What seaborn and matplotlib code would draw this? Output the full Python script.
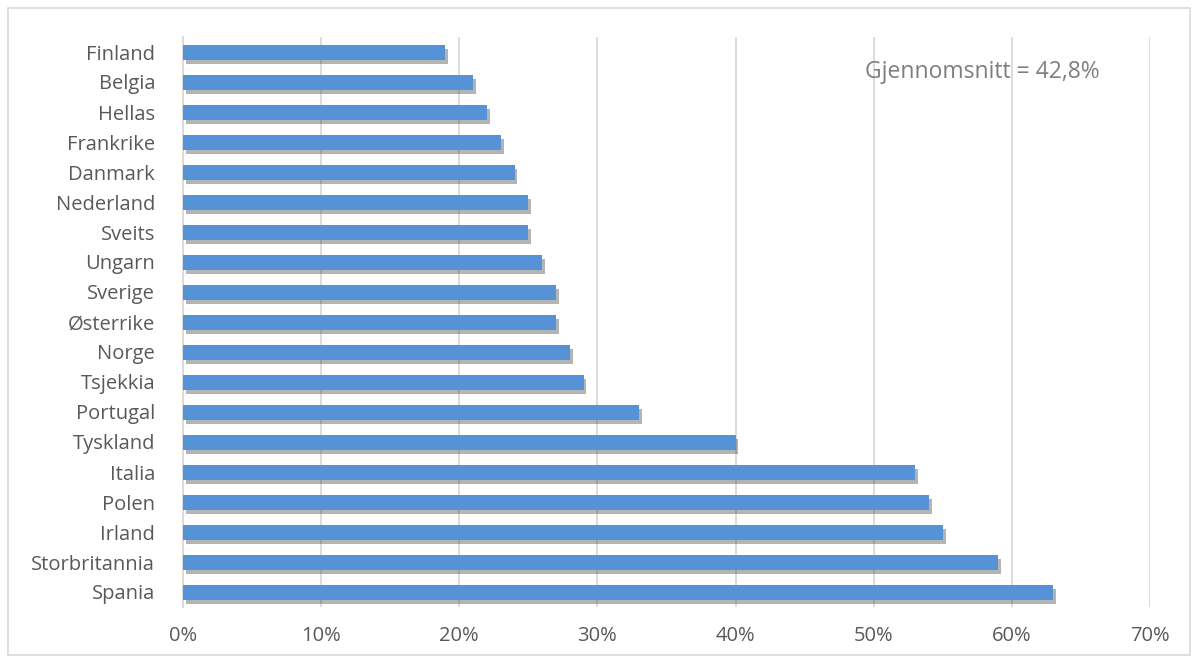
import pandas as pd
import seaborn as sns
import matplotlib.pyplot as plt
import matplotlib.patheffects as pe
from matplotlib.patches import Rectangle
from matplotlib.ticker import PercentFormatter

countries = ["Finland", "Belgia", "Hellas", "Frankrike", "Danmark", "Nederland",
             "Sveits", "Ungarn", "Sverige", "Østerrike", "Norge", "Tsjekkia",
             "Portugal", "Tyskland", "Italia", "Polen", "Irland",
             "Storbritannia", "Spania"]
shares = [19, 21, 22, 23, 24, 25, 25, 26, 27, 27, 28, 29, 33, 40, 53, 54, 55, 59, 63]
xticks = [0, 10, 20, 30, 40, 50, 60, 70]
note = "Gjennomsnitt = 42,8%"

df = pd.DataFrame({"Land": countries, "Andel": shares})

sns.set_style("white")
plt.rcParams['font.family'] = ['Open Sans', 'DejaVu Sans']

fig = plt.figure(figsize=(11.99, 6.64), dpi=100)
ax = fig.add_axes([183 / 1199, 1 - 607 / 664, 967 / 1199, 570 / 664])

sns.barplot(data=df, x="Andel", y="Land", orient="h", color="#5592d6",
            width=0.5, saturation=1, linewidth=0, ax=ax, zorder=3)

# shadow under the bars, like the excel look
for bar in ax.patches:
    bar.set_path_effects([pe.SimplePatchShadow(offset=(2, -3), shadow_rgbFace="#444444", alpha=0.4),
                          pe.Normal()])

ax.set_xlim(0, 70)
ax.set_xticks(xticks)
ax.xaxis.set_major_formatter(PercentFormatter(decimals=0))
ax.grid(axis="x", color="#d9d9d9", linewidth=1.3, zorder=0)
ax.set_axisbelow(True)
ax.set_xlabel("")
ax.set_ylabel("")
for side in ["top", "right", "bottom"]:
    ax.spines[side].set_visible(False)
ax.spines["left"].set_color("#d9d9d9")
ax.spines["left"].set_linewidth(1.3)
ax.tick_params(axis="both", length=0, labelsize=14.5, labelcolor="#595959")
ax.tick_params(axis="x", pad=14)
ax.tick_params(axis="y", pad=20)

ax.text(0.705, 0.939, note, transform=ax.transAxes, fontsize=16.5,
        color="#7f7f7f", va="center", ha="left")

# chart border
fig.patches.append(Rectangle((8 / 1199, 9 / 664), 1182 / 1199, 647 / 664,
                             transform=fig.transFigure, fill=False,
                             edgecolor="#d9d9d9", linewidth=1.2))

plt.savefig("out.png", dpi=100)
